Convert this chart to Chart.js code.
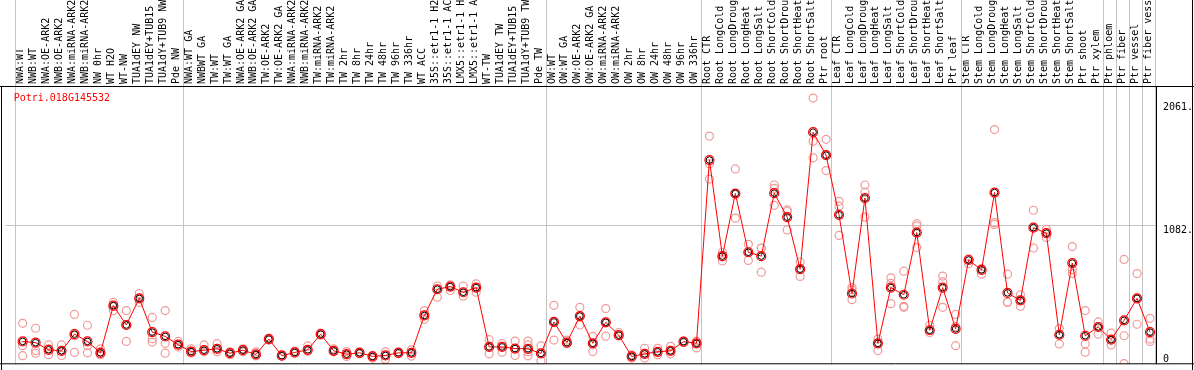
<!DOCTYPE html>
<html>
<head>
<meta charset="utf-8">
<script src="https://cdn.jsdelivr.net/npm/chart.js@4"></script>
<style>
  html, body { margin: 0; padding: 0; background: #fff; }
  canvas { display: block; }
</style>
</head>
<body>
<canvas id="chart" width="1194" height="370"></canvas>
<script>
const geneName = "Potri.018G145532";

const labels = [
  "NWA:WT", "NWB:WT", "NWA:OE-ARK2", "NWB:OE-ARK2", "NWA:miRNA-ARK2", "NWB:miRNA-ARK2", "NW 0hr", "WT H2O", "WT-NW",
  "TUA1dEY NW", "TUA1dEY+TUB15", "TUA1dY+TUB9 NW", "Pde NW",
  "NWA:WT GA", "NWBWT GA", "TW:WT", "TW:WT GA", "NWA:OE-ARK2 GA", "NWB:OE-ARK2 GA", "TW:OE-ARK2", "TW:OE-ARK2 GA",
  "NWA:miRNA-ARK2", "NWB:miRNA-ARK2", "TW:miRNA-ARK2", "TW:miRNA-ARK2", "TW 2hr", "TW 8hr", "TW 24hr", "TW 48hr",
  "TW 96hr", "TW 336hr", "WT ACC", "35S::etr1-1 H2", "35S::etr1-1 AC", "LMX5::etr1-1 H", "LMX5::etr1-1 A", "WT-TW",
  "TUA1dEY TW", "TUA1dEY+TUB15", "TUA1dY+TUB9 TW", "Pde TW",
  "OW:WT", "OW:WT GA", "OW:OE-ARK2", "OW:OE-ARK2 GA", "OW:miRNA-ARK2", "OW:miRNA-ARK2", "OW 2hr", "OW 8hr",
  "OW 24hr", "OW 48hr", "OW 96hr", "OW 336hr",
  "Root CTR", "Root LongCold", "Root LongDroug", "Root LongHeat", "Root LongSalt", "Root ShortCold", "Root ShortDrou",
  "Root ShortHeat", "Root ShortSalt", "Ptr root",
  "Leaf CTR", "Leaf LongCold", "Leaf LongDroug", "Leaf LongHeat", "Leaf LongSalt", "Leaf ShortCold", "Leaf ShortDrou",
  "Leaf ShortHeat", "Leaf ShortSalt", "Ptr leaf",
  "Stem CTR", "Stem LongCold", "Stem LongDroug", "Stem LongHeat", "Stem LongSalt", "Stem ShortCold", "Stem ShortDrou",
  "Stem ShortHeat", "Stem ShortSalt", "Ptr shoot", "Ptr xylem",
  "Ptr phloem", "Ptr fiber", "Ptr vessel", "Ptr fiber vess"
];

// index of the first sample of each tissue group
const groupStarts = [0, 13, 41, 53, 63, 73, 84, 85, 86, 87, 88];

const means = [
  159, 149, 92, 84, 217, 159, 68, 444, 290, 502, 233, 199, 133,
  78, 89, 100, 65, 89, 55, 178, 45, 71, 92, 217, 84, 57, 68, 39, 47, 68, 68, 366, 575, 596, 551, 588, 115, 115, 102, 100, 63,
  314, 149, 361, 144, 311, 209, 39, 60, 76, 84, 157, 144,
  1605, 839, 1338, 870, 839, 1341, 1150, 735, 1827, 1644,
  1168, 541, 1302, 144, 588, 531, 1027, 248, 588, 259,
  808, 729, 1346, 546, 486, 1066, 1022, 212, 784, 204, 274,
  173, 327, 502, 233
];

const replicates = [
  [303, 125, 45], [264, 86, 65], [131, 100, 53], [131, 47, 84], [374, 71, 204], [288, 125, 68], [100, 53, 76],
  [470, 405, 439], [405, 159, 290], [541, 470, 502], [350, 180, 154], [405, 144, 65], [159, 115, 133],
  [100, 65, 78], [131, 76, 89], [141, 76, 100], [76, 53, 65], [100, 76, 89], [76, 44, 55], [170, 178, 185],
  [53, 42, 45], [81, 65, 71], [123, 81, 92], [217, 210, 225], [100, 76, 84], [78, 39, 57], [76, 60, 68],
  [47, 26, 39], [76, 16, 47], [76, 60, 68], [92, 42, 68], [405, 335, 366], [601, 512, 575], [609, 565, 596],
  [601, 520, 551], [617, 551, 588], [173, 60, 115], [141, 73, 115], [162, 47, 102], [162, 131, 76, 44], [123, 5, 63],
  [447, 170, 314], [170, 141, 149], [431, 290, 361], [199, 78, 144], [421, 201, 311], [230, 204, 209],
  [39, 26, 52], [104, 26, 60], [104, 52, 76], [120, 60, 84], [162, 149, 157], [162, 107, 144],
  [1796, 1453, 1576], [870, 800, 839], [1534, 1142, 1338], [933, 805, 870], [902, 711, 904],
  [1406, 1244, 1380], [1207, 1048, 1195], [792, 677, 735], [2099, 1754, 1623], [1770, 1521, 1644],
  [1276, 1004, 1237], [588, 492, 570], [1406, 1150, 1349], [86, 178, 144], [666, 460, 622],
  [719, 439, 431], [1098, 907, 1080], [288, 230, 248], [680, 635, 431], [374, 125, 277],
  [818, 779, 808], [739, 695, 729], [1848, 1106, 1092], [695, 473, 470], [531, 439, 486], [1205, 904, 1066],
  [1053, 988, 1022], [261, 139, 212], [915, 732, 700], [405, 139, 73], [314, 217, 274],
  [225, 131, 173], [813, 204, -18], [700, 296, 502], [343, 178, 159]
];

const yTicks = [0, 1082, 2061];
const yTickLabels = ["0", "1082.", "2061."];

const monoFont = "DejaVu Sans Mono";
const gridGray = "#c4c4c4";

const meanPoints = means.map((v, i) => ({ x: i, y: v }));
const repPoints = [];
replicates.forEach((arr, i) => arr.forEach(v => repPoints.push({ x: i, y: v })));

const frame = {
  id: "frame",
  beforeDraw(chart) {
    const ctx = chart.ctx;
    ctx.save();
    ctx.fillStyle = "#fff";
    ctx.fillRect(0, 0, chart.width, chart.height);
    ctx.restore();
  },
  beforeDatasetsDraw(chart) {
    const { ctx, chartArea: a, scales: { x } } = chart;
    ctx.save();
    ctx.strokeStyle = gridGray;
    ctx.lineWidth = 1;
    groupStarts.forEach(g => {
      const px = Math.round(x.getPixelForValue(g - 0.62)) + 0.5;
      ctx.beginPath();
      ctx.moveTo(px, 0);
      ctx.lineTo(px, a.bottom);
      ctx.stroke();
    });
    ctx.restore();
  },
  afterDraw(chart) {
    const { ctx, chartArea: a, scales: { y } } = chart;
    ctx.save();
    ctx.strokeStyle = "#000";
    ctx.lineWidth = 1;
    ctx.beginPath();
    ctx.moveTo(0, a.top + 0.5); ctx.lineTo(chart.width, a.top + 0.5);
    ctx.moveTo(1.5, a.top); ctx.lineTo(1.5, chart.height);
    ctx.moveTo(a.right + 0.5, a.top); ctx.lineTo(a.right + 0.5, a.bottom);
    ctx.moveTo(0, a.bottom - 0.5); ctx.lineTo(chart.width, a.bottom - 0.5);
    ctx.moveTo(chart.width - 1.5, 0); ctx.lineTo(chart.width - 1.5, chart.height);
    ctx.stroke();

    ctx.font = "10px '" + monoFont + "'";
    ctx.textBaseline = "top";
    ctx.fillStyle = "#ff0000";
    ctx.fillText(geneName, a.left + 8, a.top + 7);

    ctx.fillStyle = "#000";
    yTicks.forEach((v, i) => {
      const py = Math.min(y.getPixelForValue(v), a.bottom - 10);
      ctx.fillText(yTickLabels[i], a.right + 7, py);
    });
    ctx.restore();
  }
};

new Chart(document.getElementById("chart"), {
  type: "line",
  data: {
    datasets: [
      {
        data: meanPoints,
        showLine: false,
        pointRadius: 4.5,
        pointBorderWidth: 1.2,
        pointBorderColor: "#ff0000",
        pointBackgroundColor: "rgba(0,0,0,0)",
        order: 0
      },
      {
        data: meanPoints,
        borderColor: "#ff0000",
        borderWidth: 1,
        pointRadius: 3.3,
        pointBorderWidth: 1,
        pointBorderColor: "#000",
        pointBackgroundColor: "rgba(0,0,0,0)",
        order: 1
      },
      {
        data: repPoints,
        showLine: false,
        pointRadius: 4,
        pointBorderWidth: 1.2,
        pointBorderColor: "#f09a9a",
        pointBackgroundColor: "rgba(0,0,0,0)",
        order: 2
      }
    ]
  },
  options: {
    responsive: false,
    animation: false,
    devicePixelRatio: 1,
    layout: { padding: { left: 2, right: 2, top: 0, bottom: 1 } },
    plugins: { legend: { display: false }, tooltip: { enabled: false } },
    scales: {
      x: {
        type: "linear",
        position: "top",
        min: -17 / 13,
        max: -17 / 13 + 1154 / 13,
        grid: { display: false, drawTicks: false },
        border: { display: false },
        afterBuildTicks: s => { s.ticks = labels.map((_, i) => ({ value: i })); },
        afterFit: s => { s.height = 86; s.paddingLeft = 0; s.paddingRight = 0; },
        ticks: {
          autoSkip: false,
          minRotation: 90,
          maxRotation: 90,
          padding: 2,
          labelOffset: 10,
          color: "#000",
          font: { family: monoFont, size: 10 },
          callback: v => labels[v]
        }
      },
      y: {
        position: "right",
        min: -23.5,
        max: 2195.5,
        afterBuildTicks: s => { s.ticks = yTicks.map(v => ({ value: v })); },
        afterFit: s => { s.width = 36; },
        grid: {
          drawTicks: false,
          color: c => (c.tick && c.tick.value === 1082 ? gridGray : "rgba(0,0,0,0)")
        },
        border: { display: false },
        ticks: { display: false }
      }
    }
  },
  plugins: [frame]
});
</script>
</body>
</html>
